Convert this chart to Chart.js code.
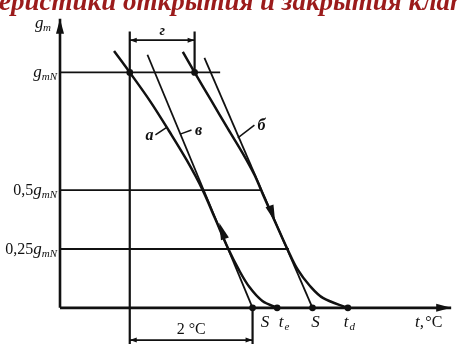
<!DOCTYPE html>
<html><head><meta charset="utf-8">
<script src="https://cdn.jsdelivr.net/npm/chart.js@4/dist/chart.umd.min.js"></script>
<style>html,body{margin:0;padding:0;background:#fff;overflow:hidden}#wrap{width:457px;height:348px;position:relative}</style>
</head><body><div id="wrap"><canvas id="c" width="457" height="348"></canvas></div>
<script>
// ---- data (x: °C from the g-axis, y: fraction of g_mN) ----
const titleLead = "Характеристики ";
const titleText = "Характеристики открытия и закрытия клапана";
// curve a (opening)
const curveA_t = [0.88, 1.136, 1.472, 1.776, 2.064, 2.32, 2.528, 2.736, 2.912, 3.088, 3.296, 3.536];
const curveA_g = [1.091, 1.0, 0.876, 0.751, 0.627, 0.502, 0.378, 0.253, 0.162, 0.087, 0.029, 0];
// curve б (closing)
const curveB_t = [2.0, 2.192, 2.464, 2.736, 2.976, 3.168, 3.312, 3.504, 3.712, 3.872, 4.064, 4.288, 4.688];
const curveB_g = [1.087, 1.0, 0.880, 0.760, 0.656, 0.564, 0.477, 0.365, 0.245, 0.162, 0.095, 0.041, 0];
// tangent lines в and б'
const tangentA_t = [1.424, 3.136];
const tangentA_g = [1.075, 0];
const tangentB_t = [2.352, 4.112];
const tangentB_g = [1.062, 0];
// reference levels
const levelValues = [1, 0.5, 0.25];
const levelEnds = [2.608, 3.28, 3.728];
const levelLabels = [["", "g", "mN"], ["0,5", "g", "mN"], ["0,25", "g", "mN"]];
// marked points
const dots_t = [1.136, 2.192, 3.136, 3.536, 4.112, 4.688];
const dots_g = [1, 1, 0, 0, 0, 0];
const bottomLabels = [["S", ""], ["t", "e"], ["S", ""], ["t", "d"]];
const bottomLabel_t = [3.34, 3.6, 4.16, 4.66];
// dimension marks
const dimTop_t = [1.136, 2.192];  const dimTop_g = 1.137; const dimTopLabel = "г";
const dimBot_t = [1.136, 3.136];  const dimBot_g = -0.137; const dimBotLabel = "2 °C";
const extTop_g = 1.174; const extBot_g = -0.154;
// axis extents
const xAxisEnd = 6.37; const yAxisEnd = 1.228;
// direction arrows along curves [tail, tip]
const arrowA = [[2.672, 0.303], [2.592, 0.361]];
const arrowB = [[3.408, 0.436], [3.504, 0.365]];
// curve tags: letter, letter position, leader end
const tags = [["а", 1.456, 0.730, 1.744, 0.768], ["в", 2.256, 0.751, 1.968, 0.739], ["б", 3.28, 0.772, 2.896, 0.722]];

const pts = (xs, ys) => xs.map((x, i) => ({x, y: ys[i]}));
const INK = "#111";
const lineDS = (data, w, extra) => Object.assign({type: "scatter", data, showLine: true, borderColor: INK, borderWidth: w, pointRadius: 0, fill: false, clip: false}, extra || {});

const datasets = [
  lineDS(pts([0, 0], [0, yAxisEnd]), 2.6),
  lineDS(pts([0, xAxisEnd], [0, 0]), 2.6),
  ...levelValues.map((v, i) => lineDS(pts([0, levelEnds[i]], [v, v]), 1.9)),
  lineDS(pts([dimTop_t[0], dimTop_t[0]], [extTop_g, extBot_g]), 2.2),
  lineDS(pts([dimTop_t[1], dimTop_t[1]], [extTop_g, 1]), 2.2),
  lineDS(pts([dimBot_t[1], dimBot_t[1]], [0, extBot_g]), 2.2),
  lineDS(pts(dimTop_t, [dimTop_g, dimTop_g]), 1.9),
  lineDS(pts(dimBot_t, [dimBot_g, dimBot_g]), 1.9),
  lineDS(pts(tangentA_t, tangentA_g), 1.8),
  lineDS(pts(tangentB_t, tangentB_g), 1.8),
  lineDS(pts(curveA_t, curveA_g), 2.5, {tension: 0.35}),
  lineDS(pts(curveB_t, curveB_g), 2.5, {tension: 0.35}),
  {type: "scatter", data: pts(dots_t, dots_g), pointRadius: 3.4, pointBackgroundColor: INK, pointBorderWidth: 0, clip: false}
];

function tri(ctx, x1, y1, x2, y2, len, half) {
  const dx = x2 - x1, dy = y2 - y1, L = Math.hypot(dx, dy), ux = dx / L, uy = dy / L;
  const bx = x2 - ux * len, by = y2 - uy * len;
  ctx.beginPath();
  ctx.moveTo(x2, y2);
  ctx.lineTo(bx - uy * half, by + ux * half);
  ctx.lineTo(bx + uy * half, by - ux * half);
  ctx.closePath();
  ctx.fill();
}
function gLabel(ctx, parts, xRight, y) {
  const fN = '16px "Liberation Serif"', fI = 'italic 17px "Liberation Serif"', fS = 'italic 11px "Liberation Serif"';
  ctx.font = fN; const w0 = ctx.measureText(parts[0]).width;
  ctx.font = fI; const w1 = ctx.measureText(parts[1]).width;
  ctx.font = fS; const w2 = ctx.measureText(parts[2]).width;
  let x = xRight - (w0 + w1 + w2);
  ctx.textAlign = "left"; ctx.textBaseline = "alphabetic";
  ctx.font = fN; ctx.fillText(parts[0], x, y); x += w0;
  ctx.font = fI; ctx.fillText(parts[1], x, y); x += w1;
  ctx.font = fS; ctx.fillText(parts[2], x, y + 3);
}

const deco = {
  id: "deco",
  afterDatasetsDraw(chart) {
    const ctx = chart.ctx, X = chart.scales.x, Y = chart.scales.y;
    const px = v => X.getPixelForValue(v), py = v => Y.getPixelForValue(v);
    ctx.save();
    ctx.fillStyle = INK; ctx.strokeStyle = INK;
    // axis arrows
    tri(ctx, px(0), py(0), px(0), py(yAxisEnd), 15, 4);
    tri(ctx, px(0), py(0), px(xAxisEnd), py(0), 15, 4);
    // direction arrows
    tri(ctx, px(arrowA[0][0]), py(arrowA[0][1]), px(arrowA[1][0]), py(arrowA[1][1]), 17, 4.2);
    tri(ctx, px(arrowB[0][0]), py(arrowB[0][1]), px(arrowB[1][0]), py(arrowB[1][1]), 17, 4.2);
    // dimension arrows
    [[dimTop_t, dimTop_g], [dimBot_t, dimBot_g]].forEach(([ts, g]) => {
      const mid = (ts[0] + ts[1]) / 2;
      tri(ctx, px(mid), py(g), px(ts[0]), py(g), 7, 2.5);
      tri(ctx, px(mid), py(g), px(ts[1]), py(g), 7, 2.5);
    });
    // tag leaders and letters
    ctx.lineWidth = 1.5;
    tags.forEach(([s, lx, ly, ex, ey]) => {
      ctx.font = 'italic bold 16px "Liberation Serif"';
      ctx.textAlign = "center"; ctx.textBaseline = "middle";
      ctx.fillText(s, px(lx), py(ly));
      const sx = px(lx) + (ex > lx ? 6 : -7), sy = py(ly) - 1;
      ctx.beginPath(); ctx.moveTo(sx, sy); ctx.lineTo(px(ex), py(ey)); ctx.stroke();
    });
    // level labels
    levelValues.forEach((v, i) => gLabel(ctx, levelLabels[i], px(0) - 3, py(v) + 5));
    // g_m axis label
    ctx.font = 'italic 17px "Liberation Serif"'; ctx.textAlign = "left"; ctx.textBaseline = "alphabetic";
    ctx.fillText("g", px(0) - 25, py(yAxisEnd) + 9);
    ctx.font = 'italic 11px "Liberation Serif"'; ctx.fillText("m", px(0) - 17, py(yAxisEnd) + 12);
    // dim labels
    ctx.font = 'italic bold 15px "Liberation Serif"'; ctx.textAlign = "center";
    ctx.fillText(dimTopLabel, px((dimTop_t[0] + dimTop_t[1]) / 2), py(dimTop_g) - 5);
    ctx.font = '16px "Liberation Serif"';
    ctx.fillText(dimBotLabel, px((dimBot_t[0] + dimBot_t[1]) / 2), py(dimBot_g) - 6);
    // bottom labels
    bottomLabels.forEach(([m, s], i) => {
      ctx.font = 'italic 17px "Liberation Serif"'; ctx.textAlign = "center";
      const x = px(bottomLabel_t[i]);
      ctx.fillText(m, x, py(0) + 19);
      if (s) { ctx.font = 'italic 11px "Liberation Serif"'; ctx.fillText(s, x + 6, py(0) + 22); }
    });
    ctx.font = 'italic 17px "Liberation Serif"'; ctx.textAlign = "left";
    ctx.fillText("t,", px(5.78), py(0) + 19);
    ctx.font = '16px "Liberation Serif"';
    ctx.fillText("°C", px(5.95), py(0) + 19);
    // title (cut by top edge)
    ctx.fillStyle = "#9b1b1b";
    ctx.font = 'italic bold 27px "Liberation Serif"'; ctx.textAlign = "left";
    const lead = ctx.measureText(titleLead).width;
    ctx.fillText(titleText, 123 - lead, 10);
    ctx.restore();
  }
};

new Chart(document.getElementById("c"), {
  type: "scatter",
  data: {datasets},
  options: {
    responsive: false, animation: false, devicePixelRatio: 1,
    layout: {padding: 0},
    plugins: {legend: {display: false}, tooltip: {enabled: false}, title: {display: false}},
    scales: {
      x: {type: "linear", display: false, min: -0.912, max: 6.4},
      y: {type: "linear", display: false, min: -0.1535, max: 1.2905}
    }
  },
  plugins: [deco]
});
</script></body></html>
